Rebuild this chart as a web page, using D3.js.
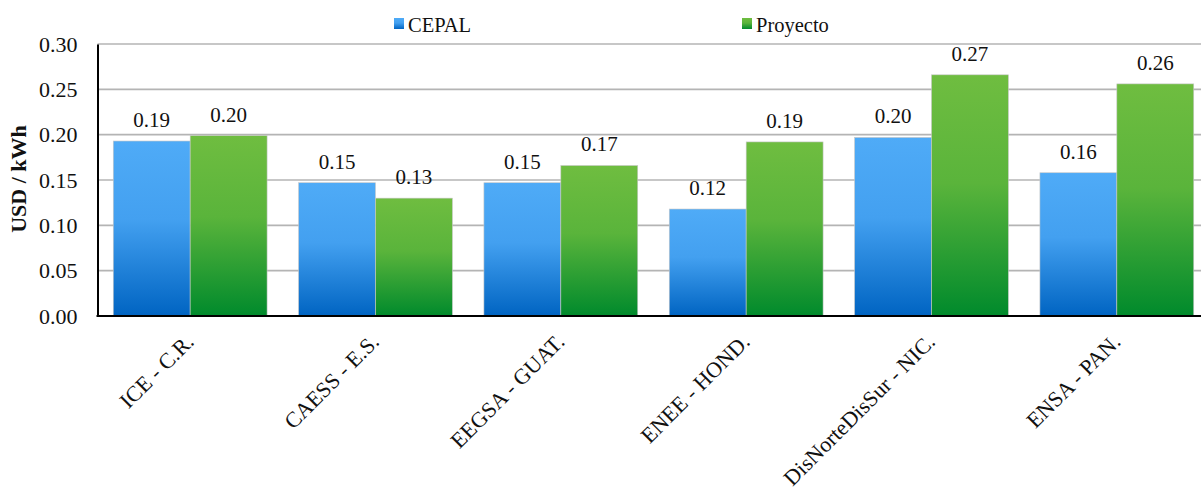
<!DOCTYPE html>
<html>
<head>
<meta charset="utf-8">
<script src="https://cdn.jsdelivr.net/npm/d3@7"></script>
<style>
  html, body { margin: 0; padding: 0; background: #fff; }
  svg { display: block; }
  svg text { font-family: "Liberation Serif", "DejaVu Serif", "Times New Roman", serif; }
</style>
</head>
<body>
<svg id="chart" width="1201" height="488"></svg>
<script>
// Tariff comparison per utility, USD / kWh
const categories = ["ICE - C.R.", "CAESS - E.S.", "EEGSA - GUAT.", "ENEE - HOND.", "DisNorteDisSur - NIC.", "ENSA - PAN."];
const seriesNames = ["CEPAL", "Proyecto"];
const cepal    = [0.193, 0.147, 0.147, 0.118, 0.197, 0.158];
const proyecto = [0.199, 0.130, 0.166, 0.192, 0.266, 0.256];
const yTicks = [0, 0.05, 0.10, 0.15, 0.20, 0.25, 0.30];

const FONT = "'Liberation Serif', 'DejaVu Serif', 'Times New Roman', serif";
const svg = d3.select("#chart");
const plotLeft = 97.5, plotRight = 1209.5, plotTop = 44, plotBottom = 316;

const x = d3.scaleBand().domain(categories).range([plotLeft, plotRight])
  .paddingInner(0.17).paddingOuter(0.085);
const xs = d3.scaleBand().domain(seriesNames).range([0, x.bandwidth()]);
const y = d3.scaleLinear().domain([0, 0.30]).range([plotBottom, plotTop]);

// Vertical gradients for the bars
const defs = svg.append("defs");
const grads = [
  { id: "gBlue",  stops: [["0%", "#4fabf7"], ["45%", "#43a0f0"], ["100%", "#0064c2"]] },
  { id: "gGreen", stops: [["0%", "#6fbd40"], ["45%", "#5ab43b"], ["100%", "#008a2c"]] }
];
grads.forEach(g => {
  const lg = defs.append("linearGradient").attr("id", g.id)
    .attr("x1", 0).attr("y1", 0).attr("x2", 0).attr("y2", 1);
  g.stops.forEach(s => lg.append("stop").attr("offset", s[0]).attr("stop-color", s[1]));
});
const fills = { "CEPAL": "url(#gBlue)", "Proyecto": "url(#gGreen)" };

// Horizontal gridlines
svg.append("g").selectAll("line").data(yTicks.slice(1)).join("line")
  .attr("x1", plotLeft).attr("x2", 1201)
  .attr("y1", d => y(d)).attr("y2", d => y(d))
  .attr("stroke", "#b4b4b4").attr("stroke-width", 1.6);

// Bars
const rows = categories.map((c, i) => ({ cat: c, vals: [
  { s: "CEPAL", v: cepal[i] }, { s: "Proyecto", v: proyecto[i] } ] }));

const groups = svg.append("g").selectAll("g").data(rows).join("g")
  .attr("transform", d => `translate(${x(d.cat)},0)`);

groups.selectAll("rect").data(d => d.vals).join("rect")
  .attr("x", d => xs(d.s))
  .attr("width", xs.bandwidth())
  .attr("y", d => y(d.v))
  .attr("height", d => y(0) - y(d.v))
  .attr("fill", d => fills[d.s])
  .attr("stroke", "#c8c8c8").attr("stroke-width", 0.6);

// Value labels
groups.selectAll("text").data(d => d.vals).join("text")
  .attr("x", d => xs(d.s) + xs.bandwidth() / 2)
  .attr("y", d => y(d.v) - 14)
  .attr("text-anchor", "middle")
  .attr("font-family", FONT)
  .attr("font-size", 21)
  .attr("fill", "#111")
  .text(d => d3.format(".2f")(d.v));

// Y axis
const yAxis = svg.append("g").attr("transform", `translate(${plotLeft},0)`)
  .call(d3.axisLeft(y).tickValues(yTicks).tickFormat(d3.format(".2f")).tickSize(0).tickPadding(20));
yAxis.attr("font-family", FONT);
yAxis.select(".domain").attr("stroke", "#000").attr("stroke-width", 2);
yAxis.selectAll("text").attr("font-size", 22).attr("fill", "#111")
  .attr("font-family", FONT);

// X axis line
svg.append("line").attr("x1", plotLeft - 1).attr("x2", 1201)
  .attr("y1", plotBottom).attr("y2", plotBottom)
  .attr("stroke", "#000").attr("stroke-width", 2);

// Category labels, rotated
svg.append("g").selectAll("text").data(categories).join("text")
  .attr("transform", d => `translate(${x(d) + x.bandwidth() / 2 + 5},${plotBottom + 27}) rotate(-45)`)
  .attr("text-anchor", "end")
  .attr("font-family", FONT)
  .attr("font-size", 22)
  .attr("fill", "#111")
  .text(d => d);

// Y title
svg.append("text")
  .attr("transform", "translate(26,179) rotate(-90)")
  .attr("text-anchor", "middle")
  .attr("font-family", FONT)
  .attr("font-size", 22).attr("font-weight", "bold")
  .attr("fill", "#111")
  .text("USD / kWh");

// Legend
const legendX = { "CEPAL": 394, "Proyecto": 742 };
const leg = svg.append("g").selectAll("g").data(seriesNames).join("g")
  .attr("transform", d => `translate(${legendX[d]},18)`);
leg.append("rect").attr("width", 10).attr("height", 11)
  .attr("fill", d => fills[d]);
leg.append("text").attr("x", 14).attr("y", 14)
  .attr("font-family", FONT)
  .attr("font-size", 20.5).attr("fill", "#111")
  .text(d => d);
</script>
</body>
</html>
